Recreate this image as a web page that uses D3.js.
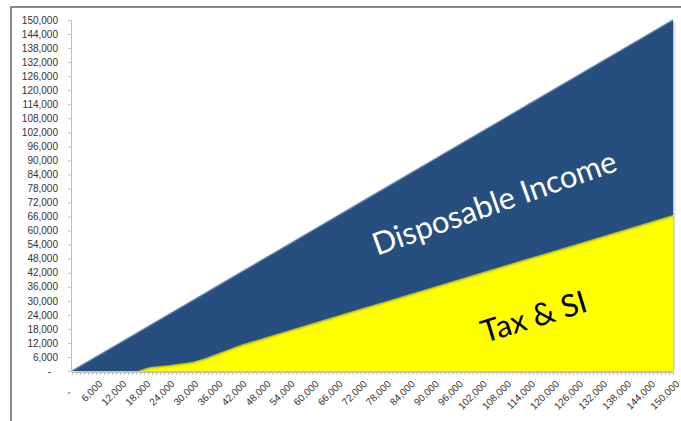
<!DOCTYPE html>
<html>
<head>
<meta charset="utf-8">
<script src="https://cdn.jsdelivr.net/npm/d3@7"></script>
<style>
  html, body { margin: 0; padding: 0; background: #fff; }
  #chart { width: 681px; height: 421px; }
  .tick text { font-family: "Liberation Sans", Arial, sans-serif; font-size: 10px; fill: #333; }
</style>
</head>
<body>
<div id="chart"></div>
<script>
// gross income (x) and the part going to tax & social insurance
const income = [0, 6000, 12000, 16500, 18000, 19500, 24000, 30000, 33000, 36000,
  42000, 48000, 54000, 60000, 66000, 72000, 78000, 84000, 90000, 96000,
  102000, 108000, 114000, 120000, 126000, 132000, 138000, 144000, 150000];
const taxSI = [0, 0, 0, 0, 1000, 1700, 2500, 3800, 5300, 7300,
  11100, 14200, 17300, 20400, 23500, 26600, 29600, 32700, 35800, 38900,
  42000, 45100, 48200, 51200, 54300, 57400, 60500, 63600, 66700];
const tickValuesX = d3.range(0, 150001, 6000);
const tickValuesY = d3.range(0, 150001, 6000);
const seriesKeys = ["tax", "disposable"];
const seriesColors = { tax: "#ffff00", disposable: "#28507f" };

const W = 681, H = 421;
const svg = d3.select("#chart").append("svg").attr("width", W).attr("height", H);

// outer frame (only left + top visible)
svg.append("line").attr("x1", 11).attr("x2", 11).attr("y1", 7).attr("y2", H).attr("stroke", "#8a8a8a").attr("stroke-width", 2);
svg.append("line").attr("x1", 10).attr("x2", W).attr("y1", 7).attr("y2", 7).attr("stroke", "#8a8a8a").attr("stroke-width", 2);

const x = d3.scaleLinear().domain([0, 150000]).range([72, 673]);
const y = d3.scaleLinear().domain([0, 150000]).range([371, 20]);

const rows = income.map((v, i) => ({ income: v, tax: taxSI[i], disposable: v - taxSI[i] }));
const stacked = d3.stack().keys(seriesKeys)(rows);

const defs = svg.append("defs");
const f = defs.append("filter").attr("id", "shade").attr("x", "-5%").attr("y", "-5%").attr("width", "110%").attr("height", "110%");
f.append("feDropShadow").attr("dx", 1).attr("dy", 1).attr("stdDeviation", 1.2).attr("flood-color", "#000").attr("flood-opacity", 0.35);

const area = d3.area()
  .x(d => x(d.data.income))
  .y0(d => y(d[0]))
  .y1(d => y(d[1]));
const topLine = d3.line().x(d => x(d.data.income)).y(d => y(d[1]));

stacked.forEach(s => {
  svg.append("path").datum(s).attr("d", area).attr("fill", seriesColors[s.key]).attr("filter", "url(#shade)");
});
// bevel highlight along the top edges
svg.append("path").datum(stacked[1]).attr("d", topLine).attr("fill", "none")
  .attr("stroke", "#5b7fb0").attr("stroke-width", 1.5).attr("opacity", 0.8);

// axes
const yAxis = d3.axisLeft(y).tickValues(tickValuesY).tickSize(3).tickPadding(10)
  .tickFormat(d => d === 0 ? "-" : d3.format(",")(d));
const gy = svg.append("g").attr("transform", "translate(71,0)").call(yAxis);
gy.select(".domain").attr("stroke", "#bfbfbf");
gy.selectAll(".tick line").attr("stroke", "#bfbfbf");
gy.selectAll(".tick text").filter(d => d === 0).attr("dx", -7);

const xMinor = d3.axisBottom(x).tickValues(d3.range(0, 150001, 1000)).tickSize(3).tickFormat("");
const gxm = svg.append("g").attr("transform", "translate(0,372)").call(xMinor);
gxm.select(".domain").attr("stroke", "#bfbfbf");
gxm.selectAll(".tick line").attr("stroke", "#bfbfbf");

const xAxis = d3.axisBottom(x).tickValues(tickValuesX).tickSize(0)
  .tickFormat(d => d === 0 ? "-" : d3.format(",")(d));
const gx = svg.append("g").attr("transform", "translate(0,372)").call(xAxis);
gx.select(".domain").remove();
gx.selectAll(".tick text")
  .attr("text-anchor", "end")
  .attr("dy", "0.35em")
  .attr("transform", d => d === 0 ? "translate(-5,17) rotate(-45)" : "translate(2,8) rotate(-45)");

// in-chart labels
svg.append("text").text("Disposable Income")
  .attr("transform", "translate(498,213) rotate(-19.5)")
  .attr("text-anchor", "middle")
  .style("font-family", "Lato, 'Open Sans', sans-serif").style("font-size", "31px").attr("fill", "#fff");
svg.append("text").text("Tax & SI")
  .attr("transform", "translate(537,327) rotate(-17)")
  .attr("text-anchor", "middle")
  .style("font-family", "Lato, 'Open Sans', sans-serif").style("font-size", "31px").attr("fill", "#000");
</script>
</body>
</html>
